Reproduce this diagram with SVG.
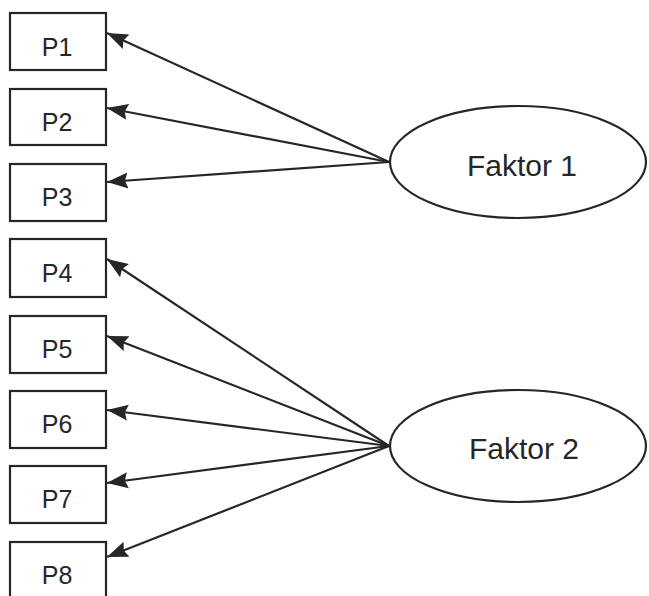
<svg xmlns="http://www.w3.org/2000/svg" width="649" height="596" viewBox="0 0 649 596">
  <defs>
    <style>
      .box { fill: #ffffff; stroke: #262626; stroke-width: 2.2; }
      .ell { fill: #ffffff; stroke: #262626; stroke-width: 2.2; }
      .lbl { font-family: "Liberation Sans", Arial, sans-serif; font-size: 25px; fill: #262626; text-anchor: middle; }
      .flbl { font-family: "Liberation Sans", Arial, sans-serif; font-size: 30px; fill: #262626; text-anchor: middle; }
      .conn line { stroke: #262626; stroke-width: 2.2; marker-end: url(#arrow); }
    </style>
    <marker id="arrow" markerUnits="userSpaceOnUse" markerWidth="24" markerHeight="20" refX="21" refY="10" orient="auto">
      <path d="M0,2 L21,10 L0,18 L3,10 z" fill="#262626"/>
    </marker>
  </defs>
  <rect width="649" height="596" fill="#ffffff"/>

  <g id="P1"><rect class="box" x="10" y="13" width="96" height="57"/><text class="lbl" x="57" y="56">P1</text></g>
  <g id="P2"><rect class="box" x="10" y="89" width="96" height="56"/><text class="lbl" x="57" y="131">P2</text></g>
  <g id="P3"><rect class="box" x="10" y="164" width="96" height="57"/><text class="lbl" x="57" y="206">P3</text></g>
  <g id="P4"><rect class="box" x="10" y="239" width="96" height="58"/><text class="lbl" x="57" y="282">P4</text></g>
  <g id="P5"><rect class="box" x="10" y="316" width="96" height="57"/><text class="lbl" x="57" y="358">P5</text></g>
  <g id="P6"><rect class="box" x="10" y="391" width="96" height="57"/><text class="lbl" x="57" y="433">P6</text></g>
  <g id="P7"><rect class="box" x="10" y="466" width="96" height="57"/><text class="lbl" x="57" y="508">P7</text></g>
  <g id="P8"><rect class="box" x="10" y="542" width="96" height="57"/><text class="lbl" x="57" y="584">P8</text></g>

  <g id="Faktor1"><ellipse class="ell" cx="518" cy="162" rx="128" ry="56"/><text class="flbl" x="522" y="176">Faktor 1</text></g>
  <g id="Faktor2"><ellipse class="ell" cx="518" cy="446" rx="128" ry="56"/><text class="flbl" x="524" y="459">Faktor 2</text></g>

  <g id="connectors" class="conn">
    <line x1="389" y1="162" x2="107" y2="33"/>
    <line x1="389" y1="162" x2="107" y2="108"/>
    <line x1="389" y1="162" x2="107" y2="182"/>
    <line x1="389" y1="446" x2="107" y2="259"/>
    <line x1="389" y1="446" x2="107" y2="336"/>
    <line x1="389" y1="446" x2="107" y2="410"/>
    <line x1="389" y1="446" x2="107" y2="483"/>
    <line x1="389" y1="446" x2="107" y2="557"/>
  </g>
</svg>
